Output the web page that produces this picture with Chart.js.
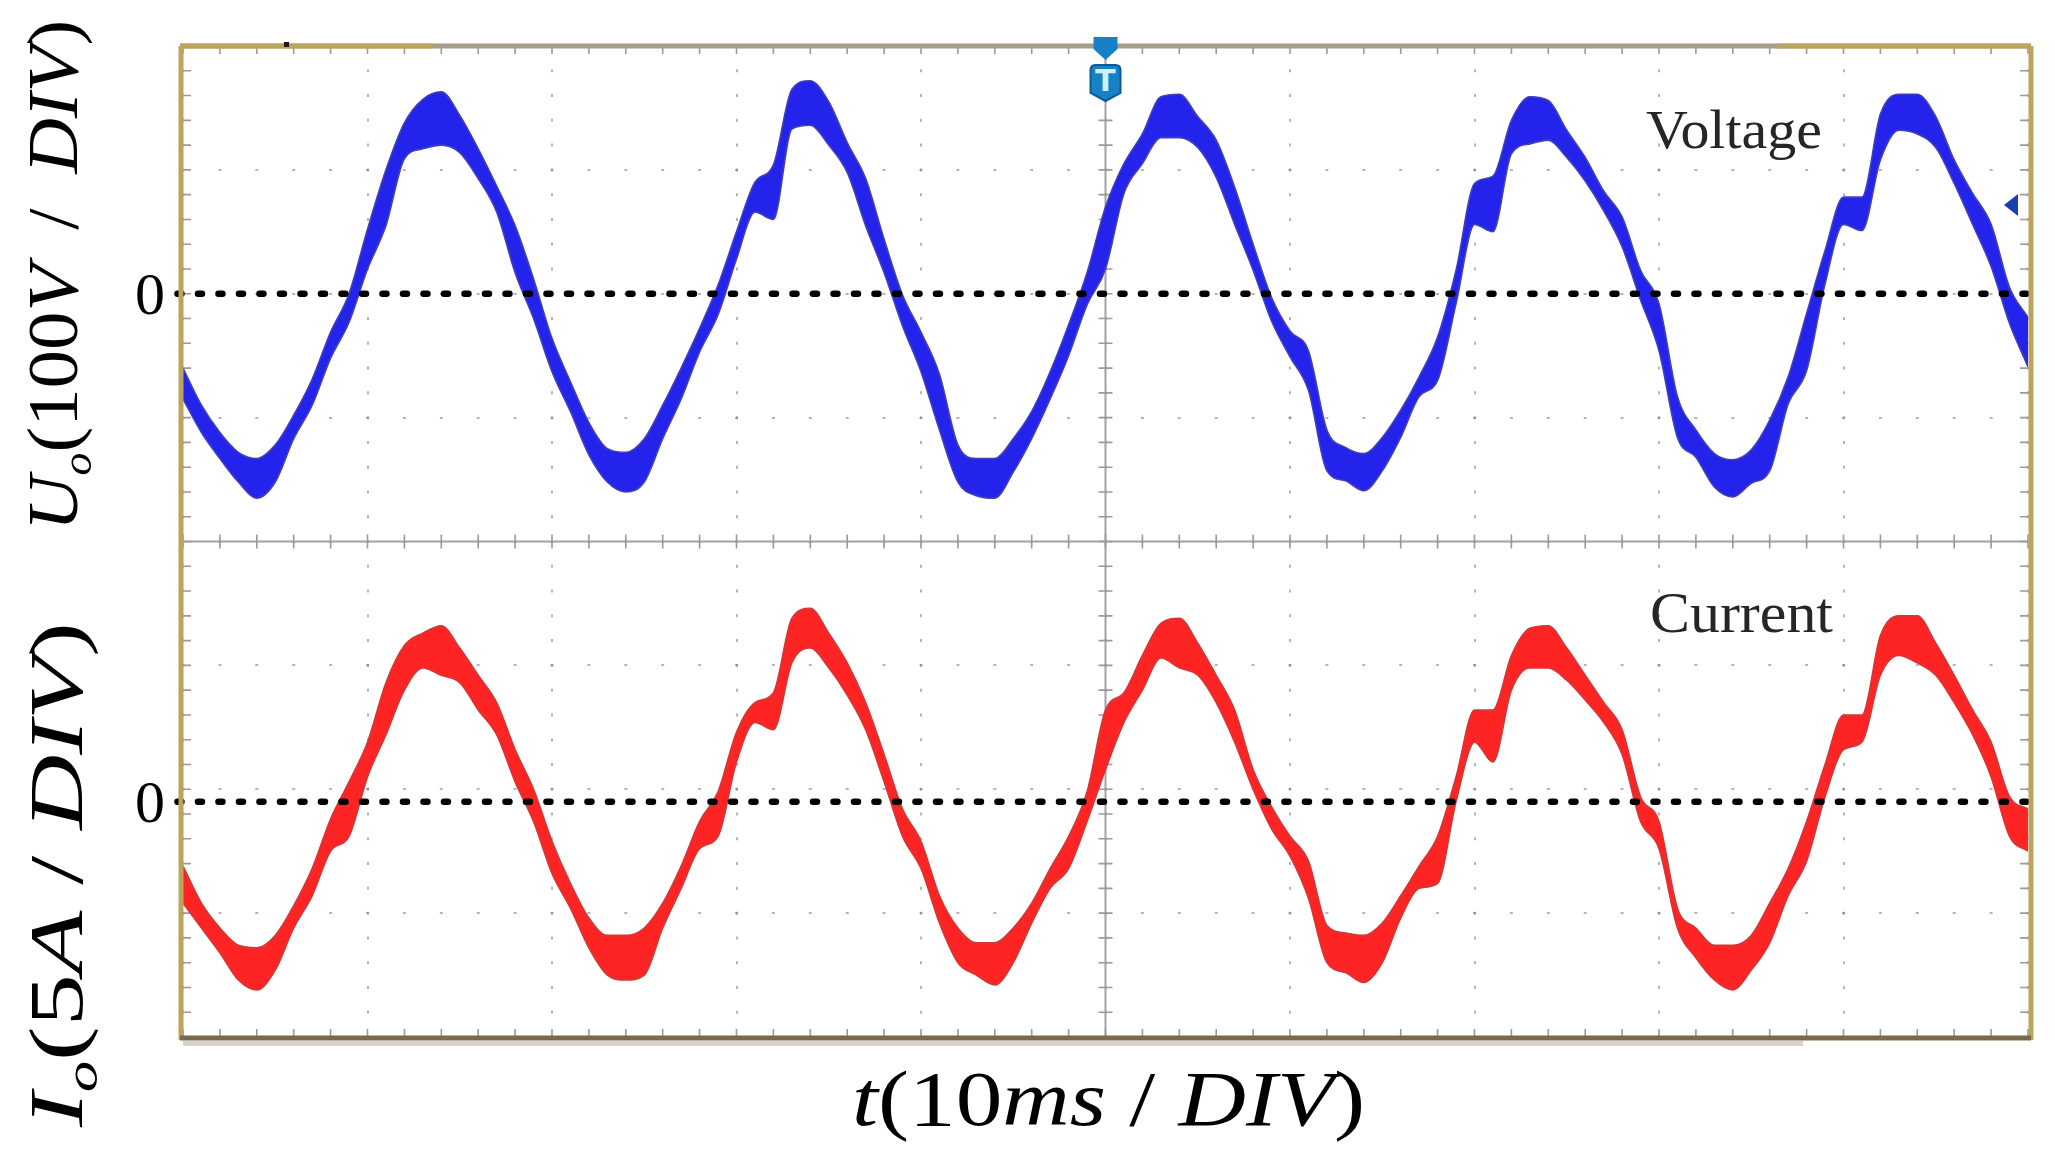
<!DOCTYPE html>
<html>
<head>
<meta charset="utf-8">
<script src="https://cdn.jsdelivr.net/npm/chart.js@4.4.0/dist/chart.umd.min.js"></script>
<style>
  html, body { margin: 0; padding: 0; background: #ffffff; }
  #wrap { position: relative; width: 2055px; height: 1154px; }
</style>
</head>
<body>
<div id="wrap"><canvas id="scope"></canvas></div>
<script>
// ---- time axis (ms, 10 ms per division) ----
const timeMs = [0,1,2,3,4,5,6,7,8,9,10,11,12,13,14,15,16,17,18,19,20,21,22,23,24,25,26,27,28,29,30,31,32,33,34,35,36,37,38,39,40,41,42,43,44,45,46,47,48,49,50,51,52,53,54,55,56,57,58,59,60,61,62,63,64,65,66,67,68,69,70,71,72,73,74,75,76,77,78,79,80,81,82,83,84,85,86,87,88,89,90,91,92,93,94,95,96,97,98,99,100];

// ---- output voltage Uo (V), upper and lower edge of the noisy trace ----
const voltageHigh = [-60,-90,-112,-128,-133,-122,-98,-69,-31,0,52,100,138,157,163,144,117,87,55,12,-36,-71,-104,-125,-128,-117,-90,-60,-28,7,50,90,104,165,172,155,122,93,44,-1,-31,-65,-122,-133,-133,-117,-95,-63,-25,17,70,105,129,159,161,143,124,86,40,-3,-30,-46,-110,-124,-129,-116,-94,-67,-35,19,89,95,140,159,156,132,110,83,62,19,-8,-83,-110,-129,-134,-126,-102,-67,-16,35,78,78,145,161,161,143,108,81,56,5,-19];
const voltageLow = [-85,-112,-133,-152,-165,-152,-117,-90,-52,-23,20,55,109,117,120,114,93,66,17,-20,-63,-95,-130,-152,-160,-152,-117,-85,-47,-17,28,66,60,133,136,120,98,55,17,-26,-63,-110,-152,-163,-165,-144,-117,-85,-50,-9,20,81,105,126,126,118,94,56,19,-22,-51,-78,-143,-151,-159,-143,-116,-83,-70,-8,56,50,113,121,124,110,91,67,38,-5,-46,-116,-132,-156,-164,-153,-143,-89,-62,8,56,51,108,132,129,118,89,56,22,-24,-59];

// ---- output current Io (A), upper and lower edge of the noisy trace ----
const currentHigh = [-2.6,-4.1,-5.1,-5.8,-5.9,-5.4,-4.2,-2.7,-0.7,0.8,2.4,4.8,6.3,6.8,7.1,6.2,5.1,4.0,2.1,0.5,-1.6,-3.3,-4.7,-5.4,-5.4,-5.1,-4.1,-2.6,-0.8,0.4,2.8,4.0,4.4,7.4,7.8,6.8,5.6,4.0,1.9,-0.3,-1.6,-3.8,-5.1,-5.7,-5.7,-5.1,-4.1,-2.7,-1.4,0.4,3.7,4.4,5.9,7.2,7.4,6.4,5.1,3.7,1.3,-0.2,-1.4,-2.4,-5.0,-5.3,-5.4,-4.9,-3.8,-2.6,-1.4,1.0,3.7,3.7,5.9,7.0,7.1,6.2,5.1,4.0,2.9,0.2,-0.8,-4.3,-5.1,-5.8,-5.8,-5.4,-4.1,-2.7,-0.8,1.5,3.5,3.5,6.7,7.5,7.5,6.4,5.1,3.7,2.4,0.2,-0.3];
const currentLow = [-4.1,-5.1,-6.1,-7.2,-7.6,-6.8,-5.1,-3.8,-2.0,-1.4,1.0,2.7,4.5,5.4,5.1,4.8,3.7,2.7,0.8,-0.8,-2.9,-4.3,-5.9,-7.0,-7.2,-7.0,-5.1,-3.5,-1.9,-1.4,1.6,3.2,2.9,5.6,6.2,5.4,4.3,2.9,0.8,-1.4,-2.7,-4.9,-6.5,-7.0,-7.4,-6.5,-4.9,-3.5,-2.7,-0.8,1.3,3.2,4.5,5.8,5.4,5.1,4.0,2.4,0.5,-1.1,-2.2,-3.9,-6.5,-6.9,-7.3,-6.5,-4.7,-3.5,-3.3,0.0,2.4,1.6,4.5,5.4,5.4,4.9,4.1,3.2,1.9,-0.8,-1.9,-5.1,-6.3,-7.2,-7.6,-6.8,-5.7,-3.8,-2.4,0.2,2.1,2.4,5.1,5.9,5.6,5.1,4.0,2.7,1.0,-1.4,-2.0];

// ---- reference (zero) levels and axis windows ----
const zeroLineMs = [-0.3, 100];
const zeroLineVal = [0, 0];
const voltRange = [-600, 200];   // 100 V/div, upper half of screen = -200..200 V
const currRange = [-9.5, 30.5];  // 5 A/div, lower half of screen = -9.5..10.5 A

const pts = (xs, ys) => xs.map((x, i) => ({ x: x, y: ys[i] }));

const FRAME = { left: 183, right: 27, top: 46, bottom: 117 };
const DOT_V = (1154 - FRAME.top - FRAME.bottom) / 40;   // minor spacing vertical
const DOT_H = (2055 - FRAME.left - FRAME.right) / 50;   // minor spacing horizontal

function richText(ctx, segs, size, x, y, targetW, angle) {
  ctx.save();
  ctx.translate(x, y);
  ctx.rotate(angle || 0);
  ctx.textAlign = 'left';
  ctx.textBaseline = 'alphabetic';
  const fontOf = s => (s.it ? 'italic ' : '') + Math.round(s.sub ? size * 0.6 : size) + 'px "Liberation Serif", "Times New Roman", serif';
  let total = 0;
  const ws = segs.map(s => { ctx.font = fontOf(s); const w = ctx.measureText(s.t).width; total += w; return w; });
  const sx = targetW ? targetW / total : 1;
  ctx.scale(sx, 1);
  let cx = 0;
  segs.forEach((s, i) => {
    ctx.font = fontOf(s);
    ctx.fillText(s.t, cx, s.sub ? size * 0.2 : 0);
    cx += ws[i];
  });
  ctx.restore();
}

function fitText(ctx, text, font, x, y, targetW, color) {
  ctx.save();
  ctx.font = font;
  ctx.fillStyle = color;
  ctx.textAlign = 'left';
  ctx.textBaseline = 'alphabetic';
  const w = ctx.measureText(text).width;
  ctx.translate(x, y);
  ctx.scale(targetW / w, 1);
  ctx.fillText(text, 0, 0);
  ctx.restore();
}

const decor = {
  id: 'decor',
  beforeDraw(chart) {
    const ctx = chart.ctx;
    ctx.save();
    ctx.fillStyle = '#ffffff';
    ctx.fillRect(0, 0, chart.width, chart.height);
    ctx.restore();
  },
  beforeDatasetsDraw(chart) {
    const { ctx, chartArea: a, scales } = chart;
    const x = scales.x, yV = scales.yV;
    const cx = x.getPixelForValue(50), cy = yV.getPixelForValue(-200);
    ctx.save();
    ctx.strokeStyle = '#a2a2a2';
    ctx.lineWidth = 2;
    ctx.beginPath();
    ctx.moveTo(cx, a.top); ctx.lineTo(cx, a.bottom);
    ctx.moveTo(a.left, cy); ctx.lineTo(a.right, cy);
    ctx.stroke();
    ctx.strokeStyle = '#9a9a9a';
    ctx.lineWidth = 1.6;
    ctx.beginPath();
    for (let k = 0; k <= 50; k++) {
      const px = x.getPixelForValue(k * 2);
      ctx.moveTo(px, a.top); ctx.lineTo(px, a.top + 8);
      ctx.moveTo(px, a.bottom); ctx.lineTo(px, a.bottom - 8);
      ctx.moveTo(px, cy - 7); ctx.lineTo(px, cy + 7);
    }
    for (let k = 0; k <= 40; k++) {
      const py = yV.getPixelForValue(200 - k * 20);
      ctx.moveTo(a.left, py); ctx.lineTo(a.left + 8, py);
      ctx.moveTo(a.right, py); ctx.lineTo(a.right - 8, py);
      ctx.moveTo(cx - 7, py); ctx.lineTo(cx + 7, py);
    }
    ctx.stroke();
    ctx.restore();
  },
  afterDatasetsDraw(chart) {
    const { ctx, chartArea: a, scales } = chart;
    const cx = scales.x.getPixelForValue(50);
    ctx.save();
    // frame
    ctx.lineWidth = 5;
    ctx.strokeStyle = '#a69d89';
    ctx.beginPath(); ctx.moveTo(a.left - 3, a.top); ctx.lineTo(a.right + 3, a.top); ctx.stroke();
    ctx.strokeStyle = '#bda45c';
    ctx.beginPath(); ctx.moveTo(a.left - 3, a.top); ctx.lineTo(433, a.top); ctx.stroke();
    ctx.beginPath(); ctx.moveTo(1777, a.top); ctx.lineTo(a.right + 3, a.top); ctx.stroke();
    ctx.beginPath(); ctx.moveTo(a.left - 2, a.top); ctx.lineTo(a.left - 2, a.bottom + 3); ctx.stroke();
    ctx.beginPath(); ctx.moveTo(a.right + 3, a.top); ctx.lineTo(a.right + 3, a.bottom + 3); ctx.stroke();
    ctx.strokeStyle = '#7a6a4c';
    ctx.beginPath(); ctx.moveTo(a.left - 3, a.bottom + 1); ctx.lineTo(a.right + 3, a.bottom + 1); ctx.stroke();
    ctx.fillStyle = '#d6d2ca';
    ctx.fillRect(a.left, a.bottom + 4, 1620, 5);
    ctx.fillStyle = '#1c1c1c';
    ctx.fillRect(284, a.top - 4, 5, 5);
    // trigger position marker
    ctx.fillStyle = '#1681c6';
    ctx.strokeStyle = '#0c5b94';
    ctx.lineWidth = 2;
    ctx.beginPath();
    ctx.moveTo(cx - 12, a.top - 9); ctx.lineTo(cx + 12, a.top - 9); ctx.lineTo(cx + 12, a.top + 3);
    ctx.lineTo(cx, a.top + 14); ctx.lineTo(cx - 12, a.top + 3); ctx.closePath();
    ctx.fill();
    ctx.beginPath();
    ctx.moveTo(cx - 15, a.top + 24);
    ctx.quadraticCurveTo(cx - 15, a.top + 19, cx - 10, a.top + 19);
    ctx.lineTo(cx + 10, a.top + 19);
    ctx.quadraticCurveTo(cx + 15, a.top + 19, cx + 15, a.top + 24);
    ctx.lineTo(cx + 15, a.top + 47);
    ctx.lineTo(cx, a.top + 55);
    ctx.lineTo(cx - 15, a.top + 47);
    ctx.closePath();
    ctx.fill(); ctx.stroke();
    ctx.fillStyle = '#c9f1ff';
    ctx.font = 'bold 30px "DejaVu Sans", sans-serif';
    ctx.textAlign = 'center';
    ctx.textBaseline = 'middle';
    ctx.fillText('T', cx, a.top + 37);
    // trigger level marker
    ctx.fillStyle = '#1b3db4';
    ctx.beginPath();
    ctx.moveTo(2004, 205); ctx.lineTo(2018, 194); ctx.lineTo(2018, 216); ctx.closePath();
    ctx.fill();
    ctx.restore();
    // trace names
    fitText(ctx, 'Voltage', '55px "Liberation Serif", serif', 1646, 148, 176, '#262626');
    fitText(ctx, 'Current', '56px "Liberation Serif", serif', 1650, 632, 183, '#262626');
  },
  afterDraw(chart) {
    const { ctx, scales } = chart;
    const v0 = scales.yV.getPixelForValue(0);
    const i0 = scales.yI.getPixelForValue(0);
    ctx.save();
    ctx.fillStyle = '#000';
    ctx.font = '60px "Liberation Serif", serif';
    ctx.textAlign = 'right';
    ctx.textBaseline = 'alphabetic';
    ctx.fillText('0', 165, v0 + 20);
    ctx.fillText('0', 165, i0 + 20);
    richText(ctx, [{t:'U',it:1},{t:'o',it:1,sub:1},{t:'(100'},{t:'V',it:1},{t:' \u2009/\u2009 '},{t:'DIV',it:1},{t:')'}], 72, 77, 531, 511, -Math.PI / 2);
    richText(ctx, [{t:'I',it:1},{t:'o',it:1,sub:1},{t:'(5'},{t:'A',it:1},{t:' / '},{t:'DIV',it:1},{t:')'}], 76, 82, 1127, 505, -Math.PI / 2);
    richText(ctx, [{t:'t',it:1},{t:'(10'},{t:'ms',it:1},{t:' / '},{t:'DIV',it:1},{t:')'}], 78, 852, 1125, 513, 0);
    ctx.restore();
  }
};

const zeroW = s => s.width = 0;
const zeroH = s => s.height = 0;

new Chart(document.getElementById('scope'), {
  type: 'line',
  data: {
    datasets: [
      { label: 'U0 ref', data: pts(zeroLineMs, zeroLineVal), yAxisID: 'yV', borderColor: '#000', borderWidth: 6.5,
        borderDash: [4, 16.5], borderCapStyle: 'round', pointRadius: 0, fill: false, clip: false, order: 0 },
      { label: 'I0 ref', data: pts(zeroLineMs, zeroLineVal), yAxisID: 'yI', borderColor: '#000', borderWidth: 6.5,
        borderDash: [4, 16.5], borderCapStyle: 'round', pointRadius: 0, fill: false, clip: false, order: 0 },
      { label: 'Voltage high', data: pts(timeMs, voltageHigh), yAxisID: 'yV', borderColor: '#4040b8', borderWidth: 1.6,
        pointRadius: 0, fill: false, order: 2 },
      { label: 'Voltage low', data: pts(timeMs, voltageLow), yAxisID: 'yV', borderColor: '#4040b8', borderWidth: 1.6,
        backgroundColor: '#2323ec', pointRadius: 0, fill: '-1', order: 2 },
      { label: 'Current high', data: pts(timeMs, currentHigh), yAxisID: 'yI', borderColor: '#d03838', borderWidth: 1.6,
        pointRadius: 0, fill: false, order: 3 },
      { label: 'Current low', data: pts(timeMs, currentLow), yAxisID: 'yI', borderColor: '#d03838', borderWidth: 1.6,
        backgroundColor: '#ff2424', pointRadius: 0, fill: '-1', order: 3 }
    ]
  },
  options: {
    responsive: true,
    maintainAspectRatio: false,
    animation: false,
    events: [],
    layout: { padding: FRAME },
    plugins: { legend: { display: false }, tooltip: { enabled: false }, title: { display: false } },
    elements: { line: { cubicInterpolationMode: 'monotone' } },
    scales: {
      x: {
        type: 'linear', min: 0, max: 100, position: 'bottom',
        ticks: { display: false, stepSize: 10 },
        grid: { drawTicks: false, color: 'rgba(120,120,120,0.55)', lineWidth: 2 },
        border: { display: false, dash: [3, DOT_V - 3], dashOffset: 1.5 },
        afterFit: zeroH
      },
      yV: {
        type: 'linear', min: voltRange[0], max: voltRange[1], position: 'left',
        ticks: { display: false, stepSize: 100 },
        grid: { drawTicks: false, color: 'rgba(120,120,120,0.55)', lineWidth: 2 },
        border: { display: false, dash: [3, DOT_H - 3], dashOffset: 1.5 },
        afterFit: zeroW
      },
      yI: {
        type: 'linear', min: currRange[0], max: currRange[1], position: 'right', display: false,
        afterFit: zeroW
      }
    }
  },
  plugins: [decor]
});
</script>
</body>
</html>
